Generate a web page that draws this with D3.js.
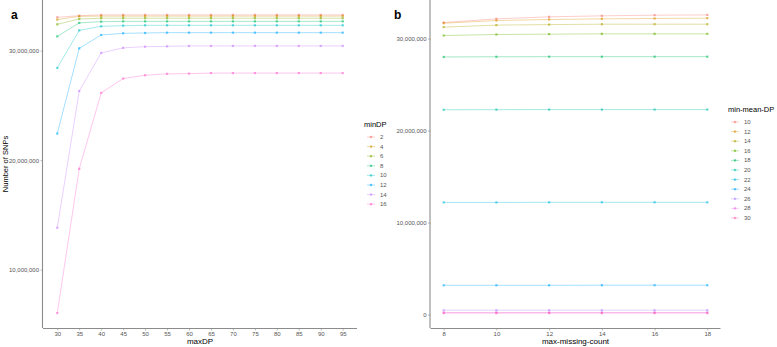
<!DOCTYPE html>
<html>
<head>
<meta charset="utf-8">
<script src="https://cdn.jsdelivr.net/npm/d3@7"></script>
<style>
  body { margin: 0; background: #fff; }
  text { font-family: "Liberation Sans", Arial, sans-serif; }
</style>
</head>
<body>
<div id="chart-area"></div>
<script>
// Panel a data: number of SNPs (millions) by maxDP, one series per minDP
var maxDP = [30, 35, 40, 45, 50, 55, 60, 65, 70, 75, 80, 85, 90, 95];
var minDP = [2, 4, 6, 8, 10, 12, 14, 16];
var snpsA = [
  [33.04, 33.19, 33.26, 33.26, 33.26, 33.26, 33.26, 33.26, 33.26, 33.26, 33.26, 33.26, 33.26, 33.26],
  [32.83, 33.13, 33.15, 33.15, 33.15, 33.15, 33.15, 33.15, 33.15, 33.15, 33.15, 33.15, 33.15, 33.15],
  [32.40, 32.89, 32.96, 32.96, 32.96, 32.96, 32.96, 32.96, 32.96, 32.96, 32.96, 32.96, 32.96, 32.96],
  [31.30, 32.53, 32.64, 32.67, 32.67, 32.67, 32.67, 32.67, 32.67, 32.67, 32.67, 32.67, 32.67, 32.67],
  [28.42, 31.85, 32.22, 32.28, 32.31, 32.31, 32.31, 32.31, 32.31, 32.31, 32.31, 32.31, 32.31, 32.31],
  [22.43, 30.21, 31.43, 31.58, 31.61, 31.64, 31.64, 31.64, 31.64, 31.64, 31.64, 31.64, 31.64, 31.64],
  [13.83, 26.31, 29.79, 30.25, 30.36, 30.39, 30.43, 30.43, 30.43, 30.43, 30.43, 30.43, 30.43, 30.43],
  [6.04, 19.21, 26.14, 27.45, 27.75, 27.88, 27.90, 27.95, 27.95, 27.95, 27.95, 27.95, 27.95, 27.95]
];
var xTicksA = [30, 35, 40, 45, 50, 55, 60, 65, 70, 75, 80, 85, 90, 95];
var yTicksA = [10e6, 20e6, 30e6];

// Panel b data: number of SNPs (millions) by max-missing-count, one series per min-mean-DP
var maxMissing = [8, 10, 12, 14, 16, 18];
var minMeanDP = [10, 12, 14, 16, 18, 20, 22, 24, 26, 28, 30];
var snpsB = [
  [31.74, 32.14, 32.36, 32.47, 32.54, 32.57],
  [31.67, 31.96, 32.07, 32.14, 32.18, 32.22],
  [31.24, 31.46, 31.52, 31.56, 31.56, 31.56],
  [30.33, 30.44, 30.48, 30.51, 30.51, 30.51],
  [28.00, 28.02, 28.03, 28.03, 28.03, 28.03],
  [22.26, 22.27, 22.28, 22.28, 22.28, 22.28],
  [12.19, 12.19, 12.20, 12.20, 12.20, 12.20],
  [3.18, 3.18, 3.18, 3.19, 3.19, 3.19],
  [0.47, 0.47, 0.47, 0.47, 0.47, 0.47],
  [0.22, 0.22, 0.22, 0.22, 0.22, 0.22],
  [0.16, 0.16, 0.16, 0.16, 0.16, 0.16]
];
var xTicksB = [8, 10, 12, 14, 16, 18];
var yTicksB = [0, 10e6, 20e6, 30e6];

// ggplot hue palette (polar CIE-Luv, c = 100, l = 65)
function luvColor(h, c, l) {
  var rad = h * Math.PI / 180;
  var u = c * Math.cos(rad), v = c * Math.sin(rad);
  var Xn = 95.047, Yn = 100, Zn = 108.883;
  var un = 4 * Xn / (Xn + 15 * Yn + 3 * Zn);
  var vn = 9 * Yn / (Xn + 15 * Yn + 3 * Zn);
  var Y = Yn * Math.pow((l + 16) / 116, 3);
  var up = u / (13 * l) + un, vp = v / (13 * l) + vn;
  var X = Y * 9 * up / (4 * vp);
  var Z = Y * (12 - 3 * up - 20 * vp) / (4 * vp);
  X /= 100; Y /= 100; Z /= 100;
  var lin = [
    3.2404542 * X - 1.5371385 * Y - 0.4985314 * Z,
    -0.9692660 * X + 1.8760108 * Y + 0.0415560 * Z,
    0.0556434 * X - 0.2040259 * Y + 1.0572252 * Z
  ];
  var rgb = lin.map(function(cv) {
    var g = cv <= 0.0031308 ? 12.92 * cv : 1.055 * Math.pow(cv, 1 / 2.4) - 0.055;
    return Math.round(Math.max(0, Math.min(1, g)) * 255);
  });
  return d3.rgb(rgb[0], rgb[1], rgb[2]).formatHex();
}

function huePal(n) {
  var out = [];
  for (var i = 0; i < n; i++) {
    out.push(luvColor(15 + 360 / n * i, 100, 65));
  }
  return out;
}

// ggplot default 5% expansion
function expand(ext) {
  var pad = (ext[1] - ext[0]) * 0.05;
  return [ext[0] - pad, ext[1] + pad];
}

var svg = d3.select("#chart-area")
  .append("svg")
  .attr("width", 777)
  .attr("height", 347);

var fmt = d3.format(",");

function panel(opt) {
  var xs = opt.xVals, series = opt.series, cats = opt.cats;
  var colors = huePal(cats.length);
  var allY = [];
  series.forEach(function(s) { s.forEach(function(v) { allY.push(v * 1e6); }); });

  var x = d3.scaleLinear()
    .domain(expand(d3.extent(xs)))
    .range([opt.left, opt.right]);
  var y = d3.scaleLinear()
    .domain(expand(d3.extent(allY)))
    .range([opt.bottom, opt.top]);

  var g = svg.append("g");

  // Axes
  var xAxis = d3.axisBottom(x).tickValues(opt.xTicks).tickSize(2.5).tickPadding(1);
  var yAxis = d3.axisLeft(y).tickValues(opt.yTicks).tickSize(2.5).tickPadding(1.5)
    .tickFormat(fmt);

  var gx = g.append("g")
    .attr("transform", "translate(0," + opt.bottom + ")")
    .call(xAxis);
  var gy = g.append("g")
    .attr("transform", "translate(" + opt.left + ",0)")
    .call(yAxis);

  [gx, gy].forEach(function(a) {
    a.select(".domain").attr("stroke", "#8c8c8c").attr("stroke-width", 1.1);
    a.selectAll(".tick line").attr("stroke", "#8c8c8c").attr("stroke-width", 0.6);
    a.selectAll(".tick text")
      .attr("fill", "#555")
      .attr("font-size", "6px")
      .style("font-family", "Liberation Sans, Arial, sans-serif");
  });
  // plain axis lines, no end caps
  gx.select(".domain").attr("d", "M" + opt.left + ",0.5H" + opt.right);
  gy.select(".domain").attr("d", "M-0.5," + opt.top + "V" + opt.bottom);

  // Lines and points
  var line = d3.line()
    .x(function(d, i) { return x(xs[i]); })
    .y(function(d) { return y(d * 1e6); });

  series.forEach(function(s, k) {
    g.append("path")
      .datum(s)
      .attr("d", line)
      .attr("fill", "none")
      .attr("stroke", colors[k])
      .attr("stroke-opacity", 0.4)
      .attr("stroke-width", 0.9);
    g.selectAll(null)
      .data(s)
      .enter()
      .append("rect")
      .attr("x", function(d, i) { return x(xs[i]) - 1.1; })
      .attr("y", function(d) { return y(d * 1e6) - 1.1; })
      .attr("width", 2.2)
      .attr("height", 2.2)
      .attr("fill", colors[k])
      .attr("fill-opacity", 0.6);
  });

  // Axis titles
  g.append("text")
    .attr("x", (opt.left + opt.right) / 2)
    .attr("y", opt.bottom + 16)
    .attr("text-anchor", "middle")
    .attr("font-size", "8px")
    .attr("fill", "#000")
    .text(opt.xTitle);

  if (opt.yTitle) {
    g.append("text")
      .attr("transform", "translate(" + opt.yTitleX + "," + ((opt.top + opt.bottom) / 2) + ") rotate(-90)")
      .attr("text-anchor", "middle")
      .attr("font-size", "7.5px")
      .attr("fill", "#000")
      .text(opt.yTitle);
  }

  // Panel tag
  g.append("text")
    .attr("x", opt.tagX)
    .attr("y", 19)
    .attr("font-size", "12px")
    .attr("font-weight", "bold")
    .attr("fill", "#000")
    .text(opt.tag);

  // Legend
  var lg = g.append("g")
    .attr("transform", "translate(" + opt.legX + "," + opt.legY + ")");
  lg.append("text")
    .attr("x", 0)
    .attr("y", 0)
    .attr("font-size", "7.5px")
    .attr("fill", "#000")
    .text(opt.legTitle);
  cats.forEach(function(c, k) {
    var yy = 12 + k * opt.legStep;
    lg.append("line")
      .attr("x1", 3).attr("x2", 11)
      .attr("y1", yy - 2).attr("y2", yy - 2)
      .attr("stroke", colors[k])
      .attr("stroke-opacity", 0.4)
      .attr("stroke-width", 0.9);
    lg.append("rect")
      .attr("x", 5.9).attr("y", yy - 3.1)
      .attr("width", 2.2).attr("height", 2.2)
      .attr("fill", colors[k])
      .attr("fill-opacity", 0.6);
    lg.append("text")
      .attr("x", 16)
      .attr("y", yy)
      .attr("font-size", "6px")
      .attr("fill", "#555")
      .text(c);
  });
}

panel({
  xVals: maxDP, series: snpsA, cats: minDP,
  left: 43, right: 357, top: 0, bottom: 328,
  xTicks: xTicksA, yTicks: yTicksA,
  xTitle: "maxDP", yTitle: "Number of SNPs", yTitleX: 8,
  tag: "a", tagX: 11,
  legTitle: "minDP", legX: 364, legY: 127, legStep: 9.6
});

panel({
  xVals: maxMissing, series: snpsB, cats: minMeanDP,
  left: 430.5, right: 720.5, top: 0, bottom: 328,
  xTicks: xTicksB, yTicks: yTicksB,
  xTitle: "max-missing-count", yTitle: null,
  tag: "b", tagX: 394,
  legTitle: "min-mean-DP", legX: 728, legY: 112, legStep: 9.6
});
</script>
</body>
</html>
